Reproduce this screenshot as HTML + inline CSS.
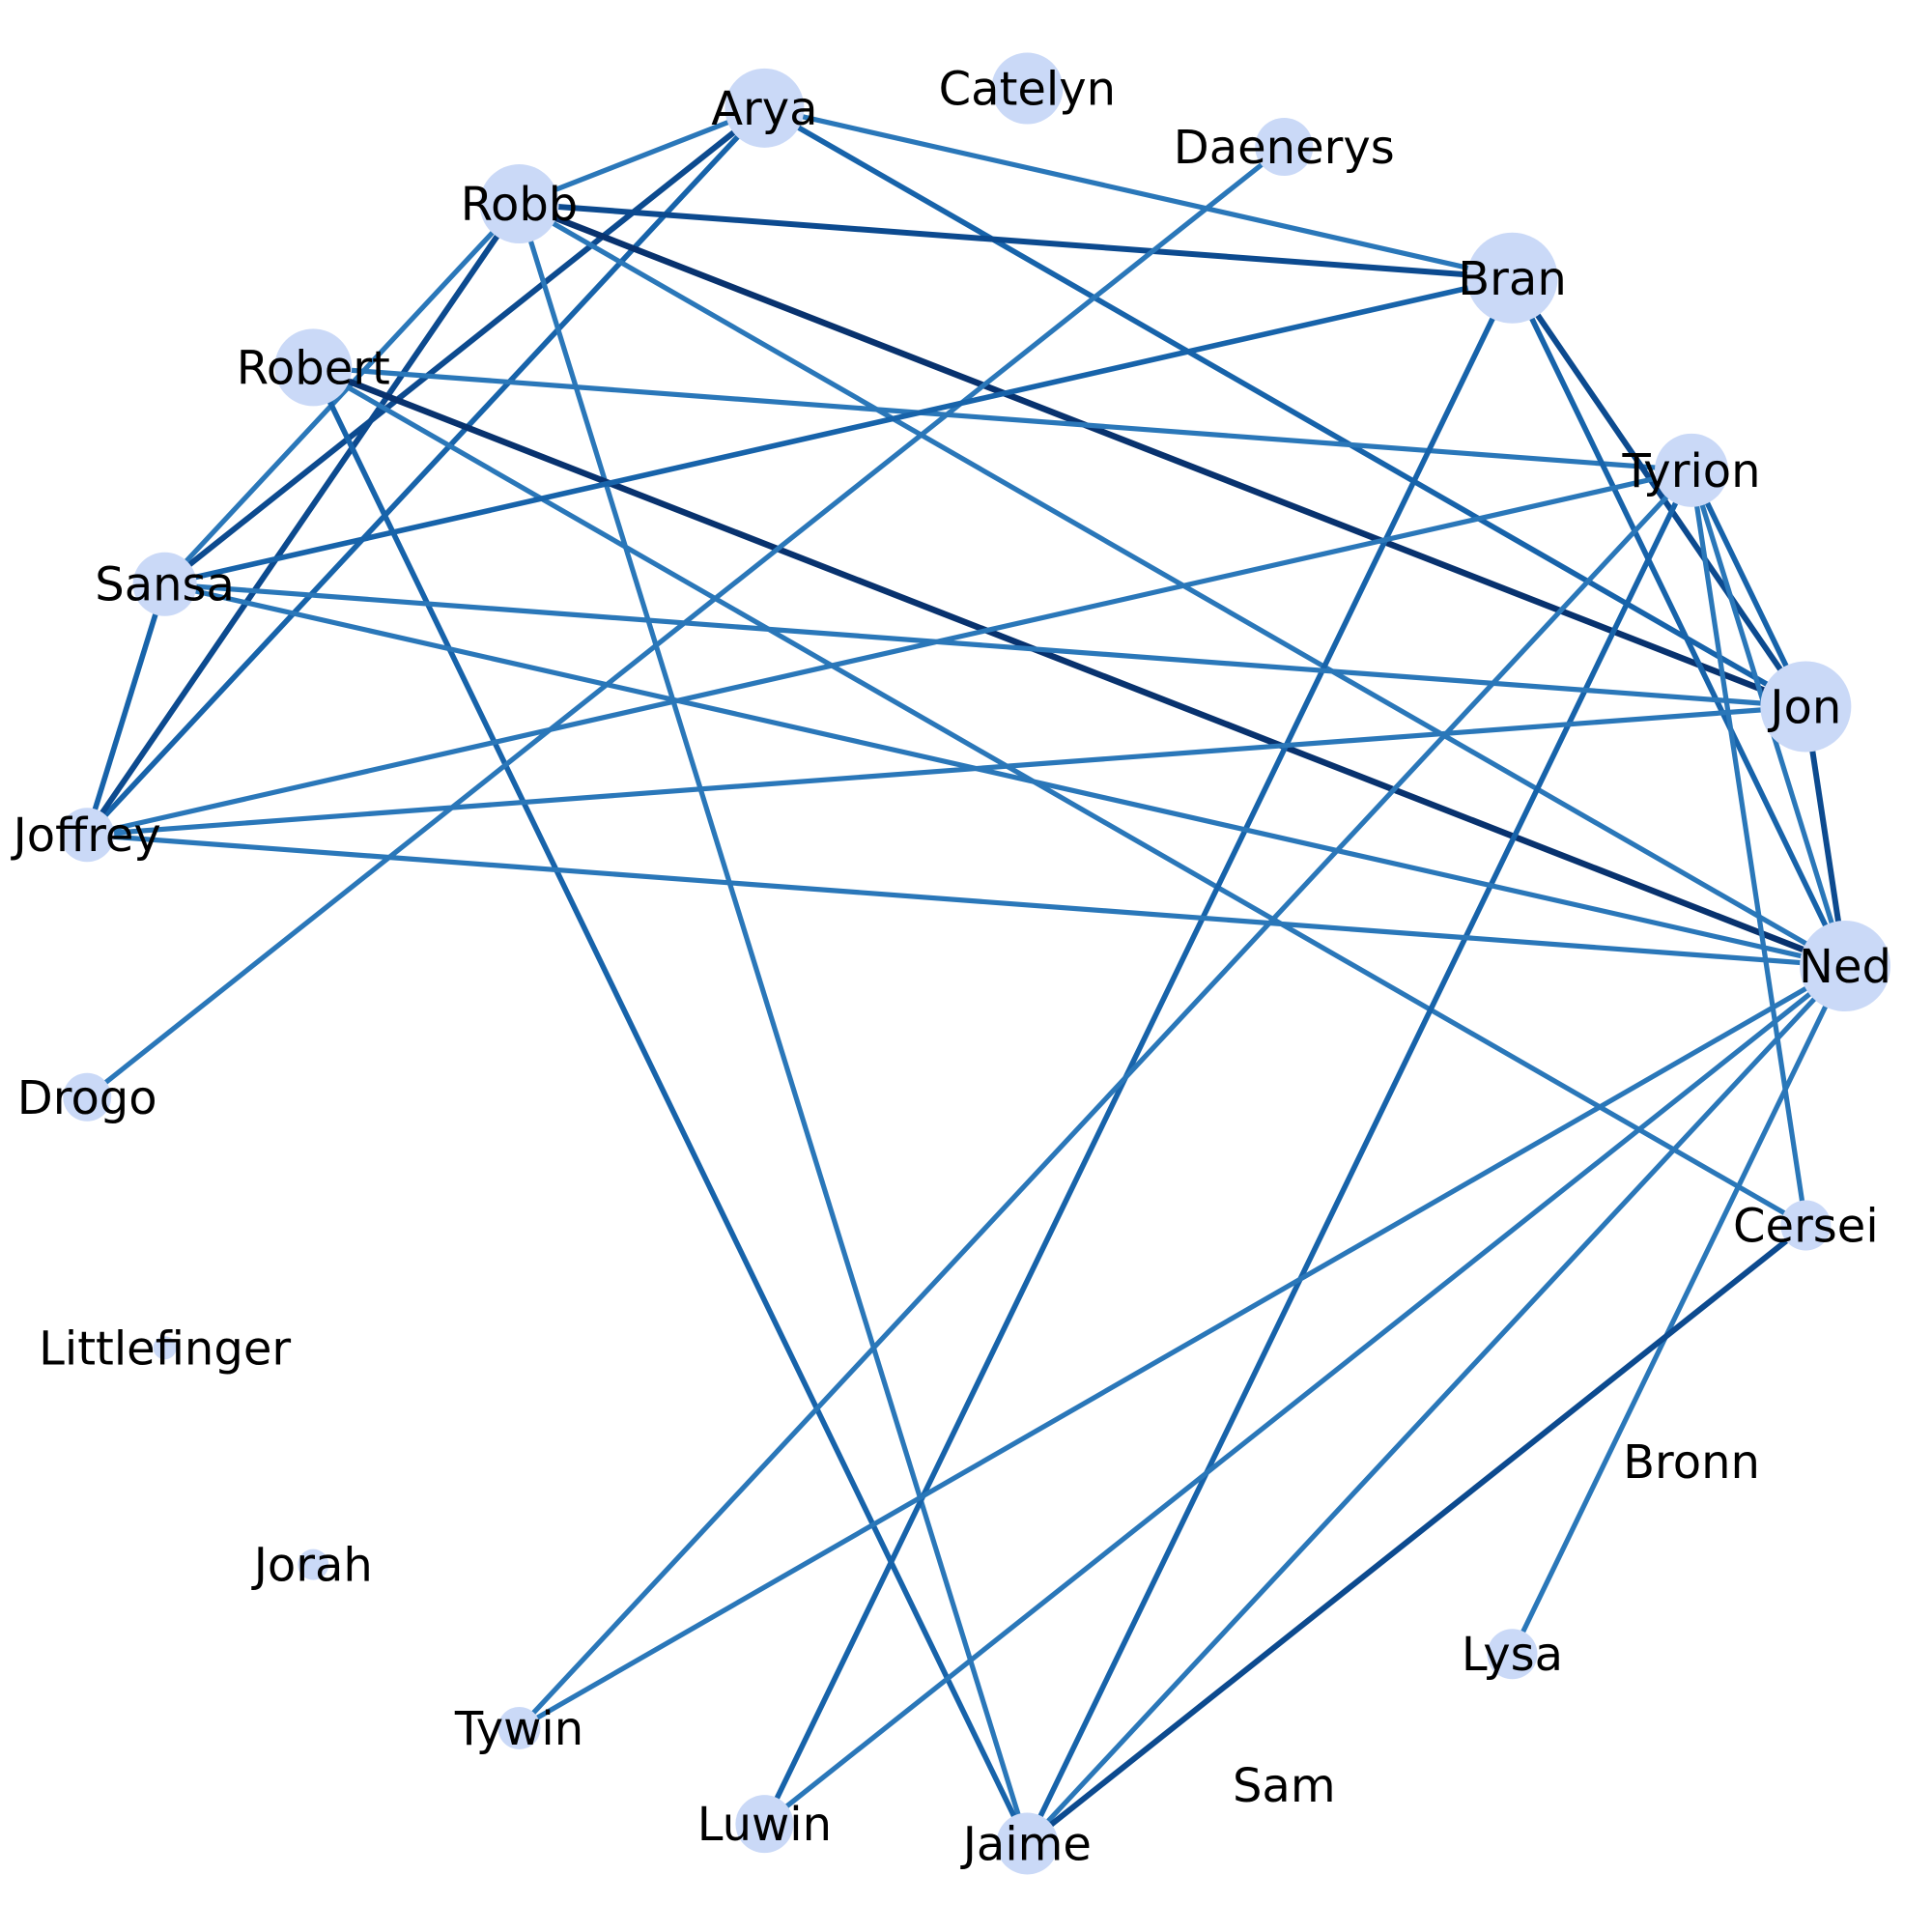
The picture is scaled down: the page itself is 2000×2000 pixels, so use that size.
<!DOCTYPE html>
<html><head><meta charset="utf-8"><style>
html,body{margin:0;padding:0;background:#fff;}
svg{display:block;}
text{font-family:"DejaVu Sans","Liberation Sans",sans-serif;font-size:48px;fill:#000;}
</style></head><body>
<svg id="chart" width="2000" height="2000" viewBox="0 0 2000 2000" xmlns="http://www.w3.org/2000/svg">
<g id="edges"></g>
<g id="nodes"></g>
<g id="labels"></g>
</svg>
<script>
const nodeNames = ["Ned","Jon","Tyrion","Bran","Daenerys","Catelyn","Arya","Robb","Robert","Sansa","Joffrey","Drogo","Littlefinger","Jorah","Tywin","Luwin","Jaime","Sam","Lysa","Bronn","Cersei"];
const nodeSizes = [47,47,38,47,30,37,41,41,40,33,28,25,12,16,22,30,32,0,26,0,26];
const edgeSources = ["Arya","Arya","Arya","Arya","Arya","Robb","Robb","Robb","Robb","Robb","Robb","Robert","Robert","Robert","Robert","Daenerys","Bran","Bran","Bran","Bran","Tyrion","Tyrion","Tyrion","Tyrion","Tyrion","Tyrion","Sansa","Sansa","Sansa","Jon","Jon","Joffrey","Ned","Ned","Ned","Ned","Cersei"];
const edgeTargets = ["Robb","Bran","Jon","Sansa","Joffrey","Bran","Jon","Sansa","Joffrey","Ned","Jaime","Tyrion","Ned","Cersei","Jaime","Drogo","Sansa","Jon","Ned","Luwin","Joffrey","Jon","Ned","Cersei","Tywin","Jaime","Jon","Ned","Joffrey","Joffrey","Ned","Ned","Tywin","Luwin","Jaime","Lysa","Jaime"];
const edgeWeights = [1,1,2,3,2,3,4,1,3,1,1,1,4,1,2,1,2,3,2,2,1,2,1,1,1,2,1,1,2,1,3,1,1,1,1,1,3];

const NS="http://www.w3.org/2000/svg";
const cx=995, cy=1000, Rx=915, Ry=911;
function posX(i){return cx+Rx*Math.cos(2*Math.PI*i/nodeNames.length);}
function posY(i){return cy-Ry*Math.sin(2*Math.PI*i/nodeNames.length);}
const colors={1:"#2a77b9",2:"#1763aa",3:"#0c4a8f",4:"#08326e"};
const widths={1:5.2,2:5.6,3:6,4:6.5};
const eg=document.getElementById('edges');
for(let k=0;k<edgeSources.length;k++){
  const a=nodeNames.indexOf(edgeSources[k]), b=nodeNames.indexOf(edgeTargets[k]);
  const l=document.createElementNS(NS,'line');
  l.setAttribute('x1',posX(a));l.setAttribute('y1',posY(a));
  l.setAttribute('x2',posX(b));l.setAttribute('y2',posY(b));
  l.setAttribute('stroke',colors[edgeWeights[k]]);
  l.setAttribute('stroke-width',widths[edgeWeights[k]]);
  
  
  eg.appendChild(l);
}
const ng=document.getElementById('nodes'), lg=document.getElementById('labels');
for(let i=0;i<nodeNames.length;i++){
  if(nodeSizes[i]>0){
    const c=document.createElementNS(NS,'circle');
    c.setAttribute('cx',posX(i));c.setAttribute('cy',posY(i));c.setAttribute('r',nodeSizes[i]);
    c.setAttribute('fill','#cad9f7');
    
    
    ng.appendChild(c);
  }
  const t=document.createElementNS(NS,'text');
  t.setAttribute('x',posX(i));t.setAttribute('y',posY(i)+17);
  t.setAttribute('text-anchor','middle');
  t.textContent=nodeNames[i];
  
  
  lg.appendChild(t);
}
</script>
</body></html>
